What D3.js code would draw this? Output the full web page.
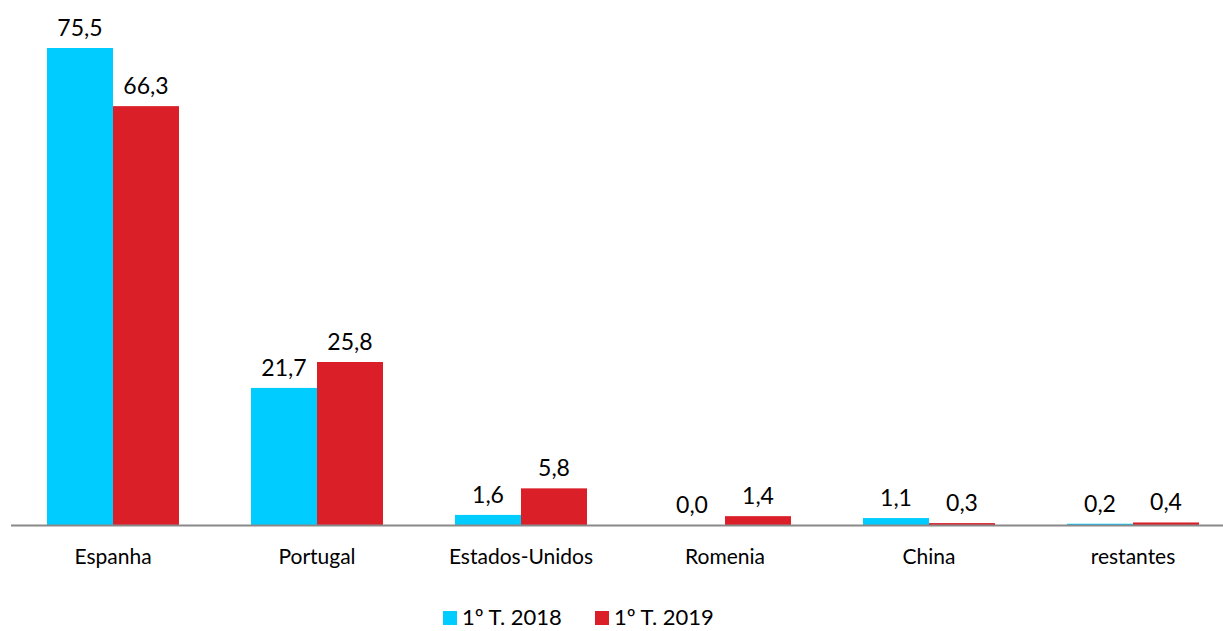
<!DOCTYPE html>
<html>
<head>
<meta charset="utf-8">
<script src="https://cdn.jsdelivr.net/npm/d3@7"></script>
<style>
  body { margin: 0; background: #fff; }
  text { font-family: Lato, "Open Sans", sans-serif; fill: #000; }
</style>
</head>
<body>
<script>
var categories = ["Espanha", "Portugal", "Estados-Unidos", "Romenia", "China", "restantes"];
var seriesNames = ["1º T. 2018", "1º T. 2019"];
var values2018 = [75.5, 21.7, 1.6, 0.0, 1.1, 0.2];
var values2019 = [66.3, 25.8, 5.8, 1.4, 0.3, 0.4];
var colors = ["#00CCFF", "#DA1F28"];

var board = { width: 1223, height: 631 };

var svg = d3.select("body").append("svg")
  .attr("width", board.width)
  .attr("height", board.height);

var x = d3.scaleBand()
  .domain(categories)
  .range([11, 1235])
  .paddingInner(0.353)
  .paddingOuter(0.1765);

var xSub = d3.scaleBand()
  .domain([0, 1])
  .range([0, x.bandwidth()]);

var y = d3.scaleLinear()
  .domain([0, 83.1])
  .range([525, 0]);

var rows = categories.map(function(c, i) {
  return { cat: c, vals: [values2018[i], values2019[i]] };
});

var groups = svg.selectAll("g.grp")
  .data(rows)
  .enter().append("g")
  .attr("class", "grp")
  .attr("transform", function(d) { return "translate(" + x(d.cat) + ",0)"; });

var bars = groups.selectAll("g.bar")
  .data(function(d) { return d.vals.map(function(v, k) { return { v: v, k: k }; }); })
  .enter().append("g")
  .attr("class", "bar");

bars.append("rect")
  .attr("x", function(d) { return xSub(d.k); })
  .attr("width", xSub.bandwidth())
  .attr("y", function(d) { return y(d.v); })
  .attr("height", function(d) { return y(0) - y(d.v); })
  .style("fill", function(d) { return colors[d.k]; });

bars.append("text")
  .attr("x", function(d) { return xSub(d.k) + xSub.bandwidth() / 2; })
  .attr("y", function(d) { return y(d.v) - 12; })
  .attr("text-anchor", "middle")
  .style("font-size", "23px")
  .text(function(d) { return d.v.toFixed(1).replace(".", ","); });

// axis line + category labels
var xAxis = d3.axisBottom(x).tickSize(0).tickPadding(0);
var ax = svg.append("g")
  .attr("transform", "translate(0," + y(0) + ")")
  .call(xAxis);
ax.select(".domain").attr("d", "M11,0.5H1223").style("stroke", "#898989").style("stroke-width", 2);
ax.selectAll(".tick text")
  .attr("dy", 0)
  .attr("y", 39)
  .style("font-size", "21px")
  .style("font-family", "Lato, 'Open Sans', sans-serif")
  .style("fill", "#000");

// legend
var legendX = [443, 595];
var legend = svg.selectAll("g.leg")
  .data(seriesNames)
  .enter().append("g")
  .attr("class", "leg")
  .attr("transform", function(d, i) { return "translate(" + legendX[i] + ",611)"; });

legend.append("rect")
  .attr("width", 14)
  .attr("height", 14)
  .style("fill", function(d, i) { return colors[i]; });

legend.append("text")
  .attr("x", 19)
  .attr("y", 14)
  .style("font-size", "22px")
  .text(function(d) { return d; });
</script>
</body>
</html>
